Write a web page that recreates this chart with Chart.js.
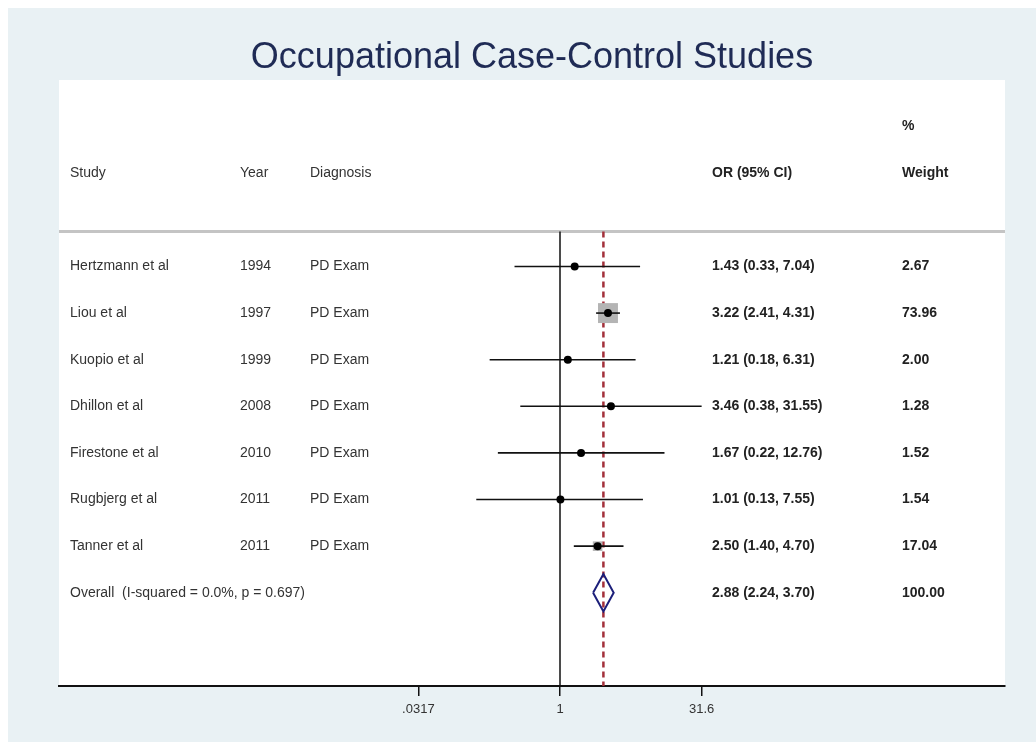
<!DOCTYPE html>
<html>
<head>
<meta charset="utf-8">
<script src="https://cdn.jsdelivr.net/npm/chart.js@4/dist/chart.umd.min.js"></script>
<style>
  html, body { margin: 0; padding: 0; background: #fff; }
  #wrap { width: 1036px; height: 742px; }
</style>
</head>
<body>
<div id="wrap"><canvas id="forest"></canvas></div>
<script>
// Study rows
const studies = ['Hertzmann et al', 'Liou et al', 'Kuopio et al', 'Dhillon et al',
                 'Firestone et al', 'Rugbjerg et al', 'Tanner et al'];
const years = ['1994', '1997', '1999', '2008', '2010', '2011', '2011'];
const diagnosis = ['PD Exam', 'PD Exam', 'PD Exam', 'PD Exam', 'PD Exam', 'PD Exam', 'PD Exam'];
const oddsRatio = [1.43, 3.22, 1.21, 3.46, 1.67, 1.01, 2.50];
const ciLow = [0.33, 2.41, 0.18, 0.38, 0.22, 0.13, 1.40];
const ciHigh = [7.04, 4.31, 6.31, 31.55, 12.76, 7.55, 4.70];
const weights = [2.67, 73.96, 2.00, 1.28, 1.52, 1.54, 17.04];

// Overall estimate
const overallLabel = 'Overall  (I-squared = 0.0%, p = 0.697)';
const overallOR = 2.88;
const overallLow = 2.24;
const overallHigh = 3.70;
const overallWeight = '100.00';

// Axis
const tickValues = [0.0317, 1, 31.6];
const tickLabels = ['.0317', '1', '31.6'];
const X_MIN = 4.98e-6, X_MAX = 51286;
const Y_MIN = -4, Y_MAX = 9;
const HEADER_ROW = -2, PCT_ROW = -3, RULE_ROW = -0.75;
const OVERALL_ROW = studies.length;

const fmt = v => v.toFixed(2);
const ciText = i => fmt(oddsRatio[i]) + ' (' + fmt(ciLow[i]) + ', ' + fmt(ciHigh[i]) + ')';

const maxW = Math.max(...weights);
const BOX_MAX = 14.1;
const FONT = '"Liberation Sans", Arial, sans-serif';

const ciSets = studies.map((s, i) => ({
  data: [{x: ciLow[i], y: i}, {x: ciHigh[i], y: i}],
  showLine: true, borderColor: '#111', borderWidth: 1.6,
  pointRadius: 0, order: 1
}));

const bgPlugin = {
  id: 'bg',
  beforeDraw(chart) {
    const c = chart.ctx, a = chart.chartArea;
    c.save();
    c.fillStyle = '#fff';
    c.fillRect(0, 0, chart.width, chart.height);
    c.fillStyle = '#e9f1f4';
    c.fillRect(8, 8, chart.width - 8, chart.height - 8);
    c.fillStyle = '#fff';
    c.fillRect(a.left, a.top, a.right - a.left, a.bottom - a.top);
    c.restore();
  }
};

const textPlugin = {
  id: 'tableText',
  afterDatasetsDraw(chart) {
    const c = chart.ctx, y = chart.scales.y;
    const norm = '14px ' + FONT;
    const bold = 'bold 14px ' + FONT;
    c.save();
    c.textBaseline = 'middle';
    c.textAlign = 'left';
    const put = (t, x, row, font, col) => {
      c.font = font; c.fillStyle = col;
      c.fillText(t, x, y.getPixelForValue(row));
    };
    put('%', 902, PCT_ROW, bold, '#222');
    put('Study', 70, HEADER_ROW, norm, '#333');
    put('Year', 240, HEADER_ROW, norm, '#333');
    put('Diagnosis', 310, HEADER_ROW, norm, '#333');
    put('OR (95% CI)', 712, HEADER_ROW, bold, '#222');
    put('Weight', 902, HEADER_ROW, bold, '#222');
    studies.forEach((s, i) => {
      put(s, 70, i, norm, '#333');
      put(years[i], 240, i, norm, '#333');
      put(diagnosis[i], 310, i, norm, '#333');
      put(ciText(i), 712, i, bold, '#222');
      put(fmt(weights[i]), 902, i, bold, '#222');
    });
    put(overallLabel, 70, OVERALL_ROW, norm, '#333');
    put(fmt(overallOR) + ' (' + fmt(overallLow) + ', ' + fmt(overallHigh) + ')', 712, OVERALL_ROW, bold, '#222');
    put(overallWeight, 902, OVERALL_ROW, bold, '#222');
    c.restore();
  }
};

new Chart(document.getElementById('forest'), {
  type: 'scatter',
  data: {
    datasets: [
      {
        data: oddsRatio.map((v, i) => ({x: v, y: i})),
        pointRadius: 4, pointBackgroundColor: '#000', pointBorderWidth: 0, order: 0
      },
      ...ciSets,
      {
        data: oddsRatio.map((v, i) => ({x: v, y: i})),
        pointStyle: 'rect',
        pointRadius: weights.map(w => BOX_MAX * Math.sqrt(w / maxW)),
        pointBackgroundColor: '#b4b4b4', pointBorderWidth: 0, order: 2
      },
      {
        data: [{x: overallLow, y: OVERALL_ROW}, {x: overallOR, y: OVERALL_ROW - 0.4},
               {x: overallHigh, y: OVERALL_ROW}, {x: overallOR, y: OVERALL_ROW + 0.4},
               {x: overallLow, y: OVERALL_ROW}],
        showLine: true, borderColor: '#1c1f7a', borderWidth: 2,
        backgroundColor: '#fff', fill: true, pointRadius: 0, order: 1
      },
      {
        data: [{x: overallOR, y: RULE_ROW}, {x: overallOR, y: Y_MAX}],
        showLine: true, borderColor: '#a3303a', borderWidth: 2.5, borderDash: [6, 4],
        pointRadius: 0, order: 3
      },
      {
        data: [{x: 1, y: RULE_ROW}, {x: 1, y: Y_MAX}],
        showLine: true, borderColor: '#111', borderWidth: 1.5,
        pointRadius: 0, order: 4
      },
      {
        data: [{x: X_MIN, y: RULE_ROW}, {x: X_MAX, y: RULE_ROW}],
        showLine: true, borderColor: '#c4c4c4', borderWidth: 3,
        pointRadius: 0, order: 5
      }
    ]
  },
  options: {
    responsive: true,
    maintainAspectRatio: false,
    animation: false,
    events: [],
    layout: { padding: { left: 59, right: 31, top: 0, bottom: 0 } },
    plugins: {
      legend: { display: false },
      tooltip: { enabled: false },
      title: {
        display: true,
        text: 'Occupational Case-Control Studies',
        color: '#1f2b55',
        font: { family: FONT, size: 36, weight: 'normal', lineHeight: 1.2 },
        padding: { top: 36, bottom: 0.8 }
      }
    },
    scales: {
      x: {
        type: 'logarithmic',
        min: X_MIN, max: X_MAX,
        afterBuildTicks: s => { s.ticks = tickValues.map(v => ({value: v})); },
        afterFit: s => { s.height = 56; },
        ticks: {
          callback: (v, i) => tickLabels[i],
          color: '#333',
          padding: 6,
          maxRotation: 0,
          autoSkip: false,
          font: { family: FONT, size: 13 }
        },
        grid: { display: true, drawOnChartArea: false, drawTicks: true, tickLength: 10, color: '#111', lineWidth: 1.5 },
        border: { display: true, color: '#111', width: 2 }
      },
      y: {
        type: 'linear', min: Y_MIN, max: Y_MAX, reverse: true, display: false
      }
    }
  },
  plugins: [bgPlugin, textPlugin]
});
</script>
</body>
</html>
